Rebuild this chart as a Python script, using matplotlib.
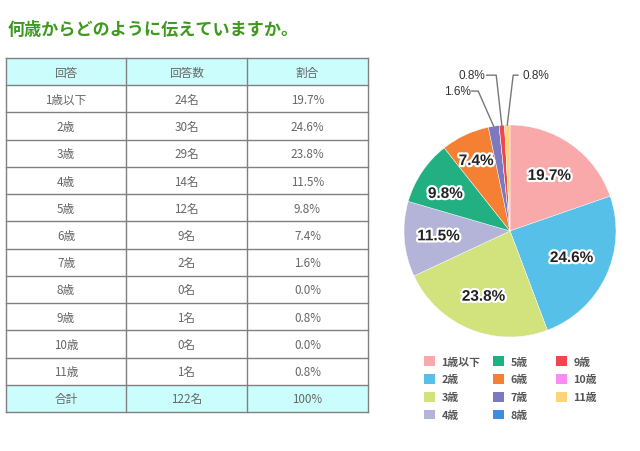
import matplotlib
matplotlib.use("Agg")
import matplotlib.pyplot as plt
import matplotlib.patheffects as pe
from matplotlib.patches import Rectangle, Patch
import numpy as np

plt.rcParams['font.family'] = ['Noto Sans CJK JP', 'DejaVu Sans']

title = "何歳からどのように伝えていますか。"
header = ["回答", "回答数", "割合"]
categories = ["1歳以下", "2歳", "3歳", "4歳", "5歳", "6歳", "7歳", "8歳", "9歳", "10歳", "11歳"]
counts = [24, 30, 29, 14, 12, 9, 2, 0, 1, 0, 1]
percents = [19.7, 24.6, 23.8, 11.5, 9.8, 7.4, 1.6, 0.0, 0.8, 0.0, 0.8]
total_label = ["合計", "122名", "100%"]
colors = ["#f9a9aa", "#57c0e9", "#d2e27d", "#b4b4d8", "#22b083", "#f58033",
          "#7b7ac0", "#3d8de6", "#f0474f", "#f88cf2", "#fed37a"]

W, H = 640, 452
fig = plt.figure(figsize=(W / 100, H / 100), dpi=100)

# ---------- overlay axes in pixel coordinates ----------
ov = fig.add_axes([0, 0, 1, 1])
ov.set_xlim(0, W)
ov.set_ylim(H, 0)
ov.axis("off")

ov.text(8, 30, title, color="#3d9a1d", fontsize=12.3, fontweight="bold",
        va="center", ha="left")

# table
col_x = [6, 126, 247, 368]
top, bottom = 59, 413
rows = [header] + [[c, f"{n}名", f"{p:.1f}%"] for c, n, p in zip(categories, counts, percents)] + [total_label]
nrows = len(rows)
rh = (bottom - top) / nrows
for i, row in enumerate(rows):
    y0 = top + i * rh
    fill = "#ccfdfd" if i in (0, nrows - 1) else "white"
    ov.add_patch(Rectangle((col_x[0], y0), col_x[-1] - col_x[0], rh,
                           facecolor=fill, edgecolor="none", zorder=1))
    for j, txt in enumerate(row):
        ov.text((col_x[j] + col_x[j + 1]) / 2, y0 + rh / 2 + 0.5, txt,
                ha="center", va="center", fontsize=8.4, color="#666666", zorder=3)
for i in range(nrows + 1):
    y = top + i * rh
    ov.plot([col_x[0], col_x[-1]], [y, y], color="#808080", lw=1.0, zorder=2)
for x in col_x:
    ov.plot([x, x], [top, bottom], color="#808080", lw=1.0, zorder=2)

# ---------- pie ----------
cx, cy, R = 510, 232, 106
pax = fig.add_axes([(cx - R) / W, (H - cy - R) / H, 2 * R / W, 2 * R / H])
wedges, _ = pax.pie(counts, colors=colors, startangle=90, counterclock=False,
                    radius=1.0, wedgeprops=dict(edgecolor="white", linewidth=0.3))
pax.set_xlim(-1, 1)
pax.set_ylim(-1, 1)
pax.axis("off")

stroke = [pe.withStroke(linewidth=3.2, foreground="white")]
inside_pos = {0: (0.37, 0.52), 1: (0.58, -0.255), 2: (-0.25, -0.62),
              3: (-0.675, -0.05), 4: (-0.61, 0.35), 5: (-0.32, 0.66)}
for k, (x, y) in inside_pos.items():
    pax.text(x, y, f"{percents[k]:.1f}%", ha="center", va="center",
             fontsize=11, fontweight="bold", color="#222222",
             family=["Liberation Sans", "DejaVu Sans"], path_effects=stroke)

# outside labels with leader lines: (elbow, text end, alignment)
outside = {6: ((-0.30, 1.32), (-0.36, 1.32), "right"),
           8: ((-0.13, 1.47), (-0.22, 1.47), "right"),
           10: ((0.03, 1.47), (0.075, 1.47), "left")}
for k, (elbow, tend, ha) in outside.items():
    w = wedges[k]
    ang = np.deg2rad((w.theta1 + w.theta2) / 2)
    tip = (np.cos(ang), np.sin(ang))
    pax.plot([tip[0], elbow[0], tend[0]], [tip[1], elbow[1], tend[1]],
             color="#777777", lw=1.0, clip_on=False)
    dx = -0.01 if ha == "right" else 0.04
    pax.text(tend[0] + dx, tend[1], f"{percents[k]:.1f}%", ha=ha, va="center",
             fontsize=8.5, color="#333333", family=["Liberation Sans", "DejaVu Sans"])

# ---------- legend (three columns) ----------
col_groups = [range(0, 4), range(4, 8), range(8, 11)]
col_left = [424, 493, 556]
for g, xl in zip(col_groups, col_left):
    handles = [Patch(facecolor=colors[i], edgecolor="none", label=categories[i]) for i in g]
    fig.legend(handles=handles, loc="upper left",
               bbox_to_anchor=(xl / W, 1 - 357 / H), frameon=False,
               handlelength=1.0, handleheight=1.0,
               handletextpad=0.6, labelspacing=0.68, borderpad=0.0,
               borderaxespad=0.0, prop=dict(weight="bold", size=7.8),
               labelcolor="#555555")

fig.savefig("out.png", dpi=100, facecolor="white")
